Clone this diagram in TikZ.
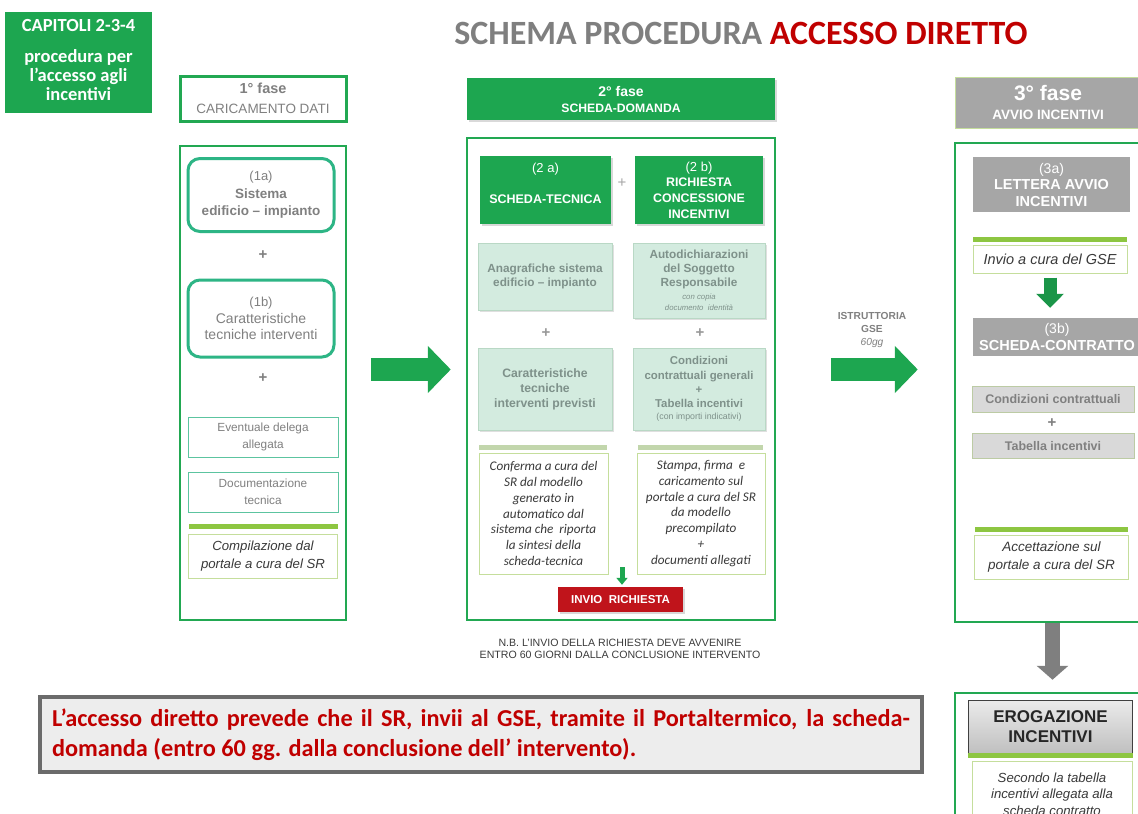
\documentclass[tikz,border=0pt]{standalone}
\usepackage{fontspec}
\setmainfont{Liberation Sans}
\newfontfamily\calib{Carlito}
\usetikzlibrary{arrows.meta,shadows,calc}

\definecolor{gsegreen}{HTML}{1DA650}
\definecolor{framegreen}{HTML}{22A852}
\definecolor{ringteal}{HTML}{2DB585}
\definecolor{thinteal}{HTML}{5CC4A0}
\definecolor{cellfill}{HTML}{D3EBDF}
\definecolor{cellline}{HTML}{B9D8C5}
\definecolor{celltext}{HTML}{7E918A}
\definecolor{softgray}{HTML}{808080}
\definecolor{darktext}{HTML}{3A3A3A}
\definecolor{limebar}{HTML}{8DC641}
\definecolor{limeline}{HTML}{C5DE9C}
\definecolor{sagebar}{HTML}{C2D6AC}
\definecolor{stepgray}{HTML}{A6A6A6}
\definecolor{palegray}{HTML}{D9D9D9}
\definecolor{paleline}{HTML}{BCCBA4}
\definecolor{alertred}{HTML}{C00000}
\definecolor{sendred}{HTML}{C0141B}
\definecolor{titlegray}{HTML}{7F7F7F}
\definecolor{arrowgray}{HTML}{7F7F7F}

\tikzset{
  frame/.style={draw=framegreen, line width=2.5pt, fill=white, inner sep=0pt},
  stephead/.style={draw=framegreen, line width=3pt, fill=white, align=center,
    text=softgray, inner sep=0pt},
  ring/.style={draw=ringteal, line width=3pt, rounded corners=12pt, fill=white,
    align=center, text=softgray, inner sep=0pt},
  thinbox/.style={draw=thinteal, line width=1pt, fill=white, align=center,
    text=softgray, inner sep=0pt, font=\fontsize{11.8}{17}\selectfont},
  notebox/.style={draw=limeline, line width=1pt, fill=white, align=center,
    text=darktext, inner sep=0pt, font=\itshape\fontsize{13.2}{17.5}\selectfont},
  calibbox/.style={draw=limeline, line width=1pt, fill=white, align=center,
    text=darktext, inner sep=0pt, font=\calib\itshape\fontsize{13.2}{15.8}\selectfont},
  bar/.style={fill=limebar, inner sep=0pt, minimum height=5pt},
  sagestrip/.style={fill=sagebar, inner sep=0pt, minimum height=5pt},
  greenhead/.style={fill=gsegreen, text=white, align=center, inner sep=0pt,
    drop shadow={shadow xshift=1.5pt, shadow yshift=-1.5pt, opacity=0.3}},
  cell/.style={fill=cellfill, draw=cellline, line width=0.8pt, text=celltext,
    align=center, inner sep=0pt,
    drop shadow={shadow xshift=1.5pt, shadow yshift=-1.5pt, opacity=0.25}},
  graybox/.style={fill=stepgray, text=white, align=center, inner sep=0pt},
  palebox/.style={fill=palegray, draw=paleline, line width=1pt, text=softgray,
    align=center, inner sep=0pt, font=\bfseries\fontsize{12.5}{14}\selectfont},
  plus/.style={text=softgray, inner sep=0pt, font=\bfseries\fontsize{15}{15}\selectfont},
  flow/.style={draw=gsegreen, line width=23pt, -{Triangle[width=46pt,length=23pt]}},
}

\begin{document}
\begin{tikzpicture}[x=1pt,y=-1pt]
\useasboundingbox (0,0) rectangle (1138,814);
\clip (0,0) rectangle (1138,814);

% corner tag
\node[fill=gsegreen, text=white, align=center, inner sep=0pt,
      minimum width=147pt, minimum height=101pt,
      font=\calib\bfseries\fontsize{18.5}{19}\selectfont] (tag) at (78.5,62.5)
  {CAPITOLI 2-3-4\\[12pt]procedura per\\l’accesso agli\\incentivi\\[-14pt]\mbox{}};

% title
\node[inner sep=0pt, font=\calib\bfseries\fontsize{34}{36}\selectfont] (title) at (741,33)
  {\textcolor{titlegray}{SCHEMA PROCEDURA} \textcolor{alertred}{ACCESSO DIRETTO}};

% ---------- phase 1 ----------
\node[stephead, minimum width=166pt, minimum height=45pt,
      font=\fontsize{13.5}{20}\selectfont] (h1) at (263,98.5)
  {{\bfseries\fontsize{14.5}{20}\selectfont 1° fase}\\CARICAMENTO DATI};
\node[frame, minimum width=166pt, minimum height=474pt] (m1) at (263,383) {};
\node[ring, minimum width=146pt, minimum height=73pt,
      font=\fontsize{13.5}{17.5}\selectfont] (r1a) at (261,195)
  {{\mdseries\fontsize{13}{17.5}\selectfont (1a)}\\\textbf{Sistema}\\\textbf{edificio – impianto}};
\node[plus] (p1) at (263,255) {+};
\node[ring, minimum width=146pt, minimum height=77pt,
      font=\fontsize{14}{16.5}\selectfont] (r1b) at (261,318.5)
  {{\fontsize{13}{16.5}\selectfont (1b)}\\Caratteristiche\\tecniche interventi};
\node[plus] (p2) at (263,378) {+};
\node[thinbox, minimum width=150pt, minimum height=40pt] (del1) at (263,437)
  {Eventuale delega\\allegata};
\node[thinbox, minimum width=150pt, minimum height=40pt] (doc1) at (263,492)
  {Documentazione\\tecnica};
\node[bar, minimum width=149pt] (bar1) at (263,526.5) {};
\node[notebox, minimum width=149pt, minimum height=44pt] (comp1) at (263,556)
  {Compilazione dal\\portale a cura del SR};

% ---------- phase 2 ----------
\node[greenhead, minimum width=308pt, minimum height=42pt,
      font=\bfseries\fontsize{12.2}{16}\selectfont] (h2) at (621,99)
  {{\fontsize{14}{16}\selectfont 2° fase}\\SCHEDA-DOMANDA};
\node[frame, minimum width=308pt, minimum height=482pt] (m2) at (621,379) {};
\node[greenhead, minimum width=131pt, minimum height=68pt,
      font=\bfseries\fontsize{12.5}{16}\selectfont] (c2a) at (545.5,190)
  {{\mdseries\fontsize{13}{16}\selectfont (2 a)}\\[15pt]SCHEDA-TECNICA\\[-3pt]\mbox{}};
\node[plus, font=\fontsize{15}{15}\selectfont, text=black!35] (p3) at (622,183) {+};
\node[greenhead, minimum width=128pt, minimum height=68pt,
      font=\bfseries\fontsize{12.4}{15.7}\selectfont] (c2b) at (699,190)
  {{\mdseries\fontsize{13}{15.7}\selectfont (2 b)}\\RICHIESTA\\CONCESSIONE\\INCENTIVI};
\node[cell, minimum width=134pt, minimum height=67pt,
      font=\bfseries\fontsize{11.8}{13.5}\selectfont] (a1) at (545,276.5)
  {Anagrafiche sistema\\edificio – impianto};
\node[cell, minimum width=132pt, minimum height=75pt,
      font=\bfseries\fontsize{11.8}{14}\selectfont] (b1) at (699,280.5)
  {Autodichiarazioni\\del Soggetto\\Responsabile\\[-1pt]{\mdseries\itshape\fontsize{7.8}{9}\selectfont con copia}\\[-3pt]{\mdseries\itshape\fontsize{7.8}{9}\selectfont documento\ \ identità}};
\node[plus, text=black!40] (p4) at (546,333) {+};
\node[plus, text=black!40] (p5) at (700,333) {+};
\node[cell, minimum width=134pt, minimum height=82pt,
      font=\bfseries\fontsize{12.2}{15}\selectfont] (a2) at (545,389)
  {Caratteristiche\\tecniche\\interventi previsti};
\node[cell, minimum width=132pt, minimum height=82pt,
      font=\bfseries\fontsize{11.4}{14.2}\selectfont] (b2) at (699,389)
  {Condizioni\\contrattuali generali\\+\\Tabella incentivi\\[-2pt]{\mdseries\fontsize{8.8}{10}\selectfont(con importi indicativi)}};
\node[sagestrip, minimum width=128pt] (bar2a) at (543,447) {};
\node[sagestrip, minimum width=125pt] (bar2b) at (700.5,447) {};
\node[calibbox, minimum width=129pt, minimum height=121pt] (t2a) at (543.5,513.5)
  {Conferma a cura del\\SR dal modello\\generato in\\automatico dal\\sistema che\ \ riporta\\la sintesi della\\scheda-tecnica};
\node[calibbox, minimum width=128pt, minimum height=121pt] (t2b) at (701,513.5)
  {Stampa, firma\ \ e\\caricamento sul\\portale a cura del SR\\da modello\\precompilato\\+\\documenti allegati};
\node[fill=sendred, text=white, inner sep=0pt, minimum width=125pt, minimum height=25pt,
      font=\bfseries\fontsize{11.5}{12}\selectfont,
      drop shadow={shadow xshift=1.5pt, shadow yshift=-1.5pt, opacity=0.3}] (send) at (620.5,599.5)
  {INVIO\ \ RICHIESTA};
\coordinate (sendtop) at (622,567);
\draw[draw=gsegreen, line width=5pt, -{Triangle[width=11pt,length=7pt]}]
  (sendtop) -- ($(send.north)+(1.5,-2)$);
\node[align=center, text=darktext, inner sep=0pt,
      font=\fontsize{10.6}{12.5}\selectfont] (nb) at (620,649)
  {N.B. L'INVIO DELLA RICHIESTA DEVE AVVENIRE\\ENTRO 60 GIORNI DALLA CONCLUSIONE INTERVENTO};

% ---------- phase 3 ----------
\node[graybox, draw=limeline, line width=1pt, minimum width=186pt, minimum height=51pt,
      font=\bfseries\fontsize{13.5}{19}\selectfont] (h3) at (1048,102.5)
  {{\fontsize{21}{19}\selectfont 3° fase}\\AVVIO INCENTIVI};
\node[frame, minimum width=191pt, minimum height=479pt] (m3) at (1050.5,382.5) {};
\node[graybox, minimum width=157pt, minimum height=55pt,
      font=\bfseries\fontsize{14.5}{16.5}\selectfont] (g3a) at (1051.5,184.5)
  {{\mdseries\fontsize{14}{16.5}\selectfont (3a)}\\LETTERA AVVIO\\INCENTIVI};
\node[bar, minimum width=154pt] (bar3a) at (1050,239.5) {};
\node[notebox, minimum width=154pt, minimum height=28pt,
      font=\itshape\fontsize{14.5}{16}\selectfont] (inv3) at (1050,259)
  {Invio a cura del GSE};
\node[graybox, minimum width=168pt, minimum height=38pt,
      font=\bfseries\fontsize{14.5}{17}\selectfont] (g3b) at (1057,337)
  {{\mdseries\fontsize{14}{17}\selectfont (3b)}\\SCHEDA-CONTRATTO};
\draw[draw=gsegreen!90!black, line width=13pt, -{Triangle[width=27pt,length=14pt]}]
  ($(inv3.south)+(0,4)$) -- ($(inv3.south |- g3b.north)+(0,-10)$);
\node[palebox, minimum width=162pt, minimum height=26pt] (cc3) at (1053,399.5)
  {Condizioni contrattuali};
\node[plus] (p6) at (1052,423) {+};
\node[palebox, minimum width=162pt, minimum height=25pt] (tb3) at (1053,446)
  {Tabella incentivi};
\node[bar, minimum width=153pt] (bar3b) at (1051.5,529) {};
\node[notebox, minimum width=154pt, minimum height=44pt,
      font=\itshape\fontsize{13.5}{18}\selectfont] (acc3) at (1051.5,557)
  {Accettazione sul\\portale a cura del SR};

% ---------- payment ----------
\node[frame, minimum width=191pt, minimum height=137pt] (m4) at (1050.5,761.5) {};
\draw[draw=arrowgray, line width=15pt, -{Triangle[width=31pt,length=14pt]}]
  ($(m3.south)+(2,0)$) -- ($(m3.south |- m4.north)+(2,-12)$);
\node[top color=white!92!black, bottom color=black!25, draw=black!75, line width=0.8pt,
      minimum width=164pt, minimum height=53pt, inner sep=0pt, align=center,
      text=black!85, font=\bfseries\fontsize{17}{20}\selectfont] (erog) at (1050.5,727)
  {EROGAZIONE\\INCENTIVI};
\node[bar, minimum width=165pt] (bar4) at (1050.5,755.5) {};
\node[notebox, minimum width=160pt, minimum height=66pt,
      font=\itshape\fontsize{13.2}{16.5}\selectfont] (sec4) at (1052,794)
  {Secondo la tabella\\incentivi allegata alla\\scheda contratto};

% ---------- phase arrows ----------
\draw[flow] ($(m1.east)+(24,-13.5)$) -- ($(m2.west)+(-15,-9.5)$);
\draw[flow] ($(m2.east)+(55,-9.5)$) -- ($(m3.west)+(-36,-13)$);
\node[align=center, text=softgray, inner sep=0pt,
      font=\bfseries\fontsize{10.2}{13}\selectfont] (istr) at (872,330)
  {ISTRUTTORIA\\GSE\\{\mdseries\itshape 60gg}};

% ---------- note ----------
\node[draw=black!58, line width=4pt, fill=black!7, minimum width=882pt, minimum height=75pt,
      inner sep=0pt,
      drop shadow={shadow xshift=2pt, shadow yshift=-2pt, opacity=0.25}] (note) at (481,734.5) {};
\node[text width=858pt, align=justify, text=alertred, inner sep=0pt,
      font=\calib\bfseries\fontsize{24.3}{30}\selectfont] (notetext) at (note.center)
  {L’accesso diretto prevede che il SR, invii al GSE, tramite il Portaltermico, la scheda-\linebreak domanda (entro 60 gg. dalla conclusione dell’ intervento).};
\end{tikzpicture}
\end{document}
